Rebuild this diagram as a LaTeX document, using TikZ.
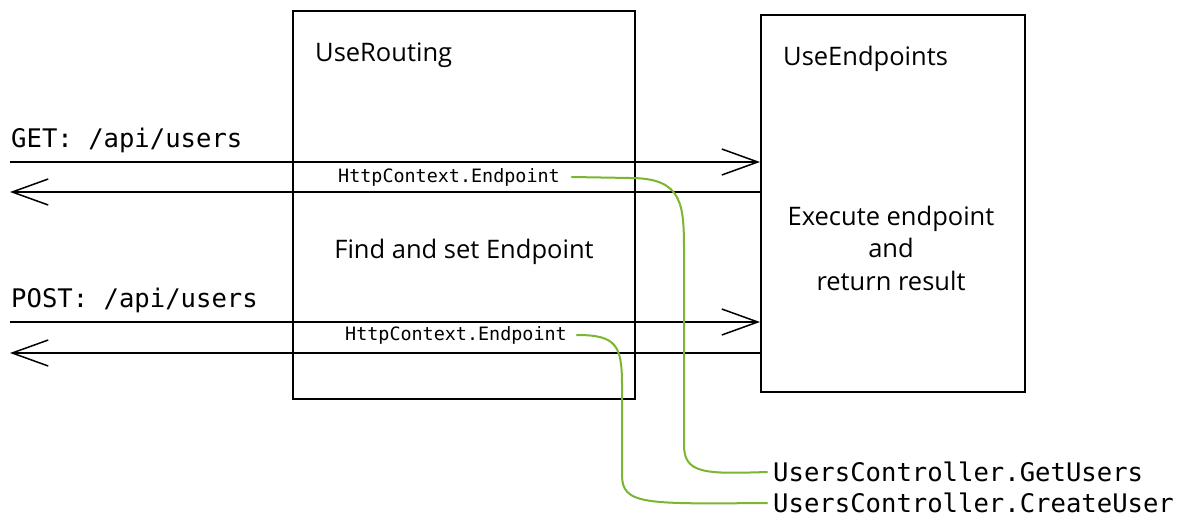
\documentclass[tikz,border=0pt]{standalone}
\usepackage{fontspec}
\usetikzlibrary{arrows.meta,calc}
\newfontfamily\codefont{DejaVu Sans Mono}
\newfontfamily\handfont{Open Sans}
\definecolor{linkgreen}{RGB}{122,182,48}
\tikzset{
  box/.style={draw=black, line width=1.8pt, anchor=north west, inner sep=0pt},
  flow/.style={draw=black, line width=1.8pt, -{Straight Barb[length=36pt,width=26pt,line width=1.5pt]}},
  bigcode/.style={font=\codefont\fontsize{25.6}{28}\selectfont, inner sep=0pt, anchor=west},
  smallcode/.style={font=\codefont\fontsize{18.4}{21}\selectfont, inner sep=0pt, anchor=west},
  hand/.style={font=\handfont\fontsize{25.5}{32.5}\selectfont, inner sep=0pt},
  link/.style={draw=linkgreen, line width=2pt, line cap=round}
}
\begin{document}
\begin{tikzpicture}[x=1pt,y=-1pt]
\useasboundingbox (0,0) rectangle (1180,522);
\fill[white] (0,0) rectangle (1180,522);

% boxes
\node[box, minimum width=342pt, minimum height=388pt] (routing) at (292,10) {};
\node[box, minimum width=264pt, minimum height=377pt] (endpoints) at (760,14) {};

% box titles and texts
\node[hand, anchor=west] (rtitle) at (315,55) {UseRouting};
\node[hand, anchor=west] (etitle) at (783,59) {UseEndpoints};
\node[hand] (findset) at (464,252) {Find and set Endpoint};
\node[hand, align=center] (exec) at (891,248) {Execute endpoint\\and\\return result};

% request labels
\node[bigcode] (getlbl) at (11,140) {GET: /api/users};
\node[bigcode] (postlbl) at (11,300) {POST: /api/users};

% flow coordinates
\coordinate (getin) at (10,162);
\coordinate (getout) at (10,192);
\coordinate (postin) at (10,322);
\coordinate (postout) at (10,353);

\draw[flow] (getin) -- (endpoints.west |- getin);
\draw[flow] (endpoints.west |- getout) -- (getout);
\draw[flow] (postin) -- (endpoints.west |- postin);
\draw[flow] (endpoints.west |- postout) -- (postout);

% HttpContext labels
\node[smallcode] (ctxget) at (338,177) {HttpContext.Endpoint};
\node[smallcode] (ctxpost) at (345,335) {HttpContext.Endpoint};

% controller labels
\node[bigcode] (getusers) at (773,472) {UsersController.GetUsers};
\node[bigcode] (createuser) at (773,503) {UsersController.CreateUser};

% green links
\draw[link] ([xshift=12pt]ctxget.east) -- (630,178)
  .. controls (684,178) and (684,205) .. (684,255)
  -- (684,445) .. controls (684,474) and (705,474) .. ([xshift=-6pt]getusers.west);
\draw[link] ([xshift=10pt]ctxpost.east)
  .. controls (616,335) and (622,345) .. (622,385)
  -- (622,475) .. controls (622,505) and (645,504) .. ([xshift=-6pt]createuser.west);
\end{tikzpicture}
\end{document}
